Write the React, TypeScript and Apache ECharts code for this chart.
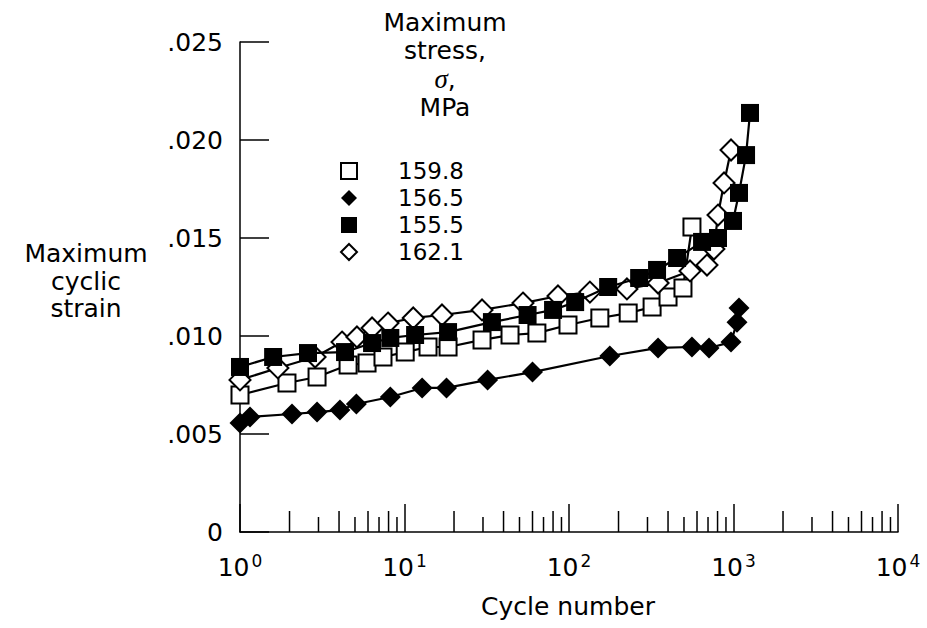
import React, { useEffect, useRef } from "react";
import * as echarts from "echarts";

// ---- data ----
const legendNames = ["159.8", "156.5", "155.5", "162.1"];

const cycles159_8 = [1, 1.93, 2.94, 4.54, 5.92, 7.4, 10.1, 13.9, 18.4, 29.6, 43.8, 63.8, 98.6, 154, 229, 320, 400, 493, 559];
const strain159_8 = [0.00699, 0.0076, 0.00791, 0.00852, 0.00862, 0.00893, 0.00918, 0.00944, 0.00944, 0.0098, 0.01005, 0.01015, 0.01056, 0.01092, 0.01117, 0.01148, 0.01199, 0.01245, 0.01556];

const cycles156_5 = [1, 1.15, 2.07, 2.94, 4.05, 5.1, 8.2, 12.8, 18, 32, 60, 177, 348, 559, 710, 966, 1050, 1080];
const strain156_5 = [0.00556, 0.00587, 0.00602, 0.00612, 0.00622, 0.00653, 0.00689, 0.00735, 0.00735, 0.00776, 0.00816, 0.00898, 0.00939, 0.00944, 0.00939, 0.00969, 0.0107, 0.01143];

const cycles155_5 = [1, 1.59, 2.59, 4.35, 6.35, 8.2, 11.6, 18.4, 34, 56, 80, 109, 173, 267, 343, 454, 644, 805, 993, 1080, 1192, 1260];
const strain155_5 = [0.00842, 0.00893, 0.00913, 0.00918, 0.00964, 0.0099, 0.01005, 0.0102, 0.01071, 0.01107, 0.01133, 0.01173, 0.0125, 0.01296, 0.01337, 0.01398, 0.0148, 0.015, 0.01587, 0.0173, 0.01923, 0.02138];

const cycles162_1 = [1, 1.7, 2.86, 4.17, 5.14, 6.35, 7.94, 11.3, 16.9, 29.6, 52.5, 85.7, 134, 225, 348, 544, 690, 760, 805, 876, 966];
const strain162_1 = [0.00776, 0.00837, 0.00893, 0.00969, 0.00995, 0.01041, 0.01066, 0.01092, 0.01107, 0.01133, 0.01168, 0.01204, 0.01224, 0.0124, 0.0127, 0.01332, 0.01362, 0.01444, 0.01617, 0.01781, 0.01949];

// axis structure
const decades = [1, 10, 100, 1000];
const minorMultipliers = [2, 3, 4, 5, 6, 7, 8, 9];

// text
const legendTitle = "{n|Maximum}\n{n|stress,}\n{g|σ}{n|,}\n{n|MPa}";
const yTitle = "Maximum\ncyclic\nstrain";
const xTitle = "Cycle number";

const FONT = "DejaVu Sans";

function pairs(xs: number[], ys: number[]) {
  return xs.map((x, i) => [x, ys[i]]);
}

export default function App() {
  const ref = useRef<HTMLDivElement>(null);
  useEffect(() => {
    if (!ref.current) return;
    const chart = echarts.init(ref.current, null, { renderer: "svg" });

    const minorTicks: number[][] = [];
    decades.forEach((d) => minorMultipliers.forEach((m) => minorTicks.push([d * m, 0])));

    const lineBase = {
      type: "line",
      showSymbol: true,
      lineStyle: { color: "#000", width: 2.2 },
      emphasis: { disabled: true },
      silent: true,
    };
    const openStyle = { color: "#fff", borderColor: "#000", borderWidth: 2 };
    const filledStyle = { color: "#000", borderColor: "#000", borderWidth: 0 };

    const graphic: any[] = [
      {
        type: "text",
        x: 445,
        y: 8,
        style: {
          text: legendTitle,
          align: "center",
          verticalAlign: "top",
          rich: {
            n: { fontFamily: FONT, fontSize: 25, lineHeight: 28.5, fill: "#000", align: "center" },
            g: { fontFamily: "Liberation Serif", fontStyle: "italic", fontSize: 27, lineHeight: 28.5, fill: "#000", align: "center" },
          },
        },
      },
      {
        type: "text",
        x: 86,
        y: 240,
        style: {
          text: yTitle,
          align: "center",
          verticalAlign: "top",
          fontFamily: FONT,
          fontSize: 25,
          lineHeight: 27.5,
          fill: "#000",
        },
      },
      {
        type: "text",
        x: 568,
        y: 606,
        style: {
          text: xTitle,
          align: "center",
          verticalAlign: "middle",
          fontFamily: FONT,
          fontSize: 25,
          fill: "#000",
        },
      },
    ];

    const option: any = {
      animation: false,
      backgroundColor: "#fff",
      grid: { left: 240, right: 29, top: 42, bottom: 96 },
      xAxis: {
        type: "log",
        logBase: 10,
        min: 1,
        max: 10000,
        axisLine: { show: true, onZero: false, lineStyle: { color: "#000", width: 1.5 } },
        axisTick: { show: true, inside: true, length: 28, lineStyle: { color: "#000", width: 1.5 } },
        minorTick: { show: false },
        splitLine: { show: false },
        axisLabel: {
          margin: 20,
          color: "#000",
          formatter: (v: number) => `{b|10}{s|${Math.round(Math.log10(v))}}`,
          rich: {
            b: { fontFamily: FONT, fontSize: 25, color: "#000", lineHeight: 30 },
            s: { fontFamily: FONT, fontSize: 17, color: "#000", lineHeight: 30, verticalAlign: "top", padding: [0, 0, 0, 2] },
          },
        },
      },
      yAxis: {
        type: "value",
        min: 0,
        max: 0.025,
        interval: 0.005,
        axisLine: { show: true, onZero: false, lineStyle: { color: "#000", width: 1.5 } },
        axisTick: { show: true, inside: true, length: 29, lineStyle: { color: "#000", width: 1.5 } },
        splitLine: { show: false },
        axisLabel: {
          margin: 17,
          color: "#000",
          fontFamily: FONT,
          fontSize: 25,
          formatter: (v: number) => (v === 0 ? "0" : "." + v.toFixed(3).slice(2)),
        },
      },
      legend: {
        orient: "vertical",
        left: 335,
        top: 153,
        itemWidth: 16,
        itemHeight: 16,
        itemGap: 1,
        selectedMode: false,
        textStyle: { fontFamily: FONT, fontSize: 23, color: "#000", lineHeight: 26, padding: [0, 0, 0, 36] },
        data: [
          { name: legendNames[0], icon: "rect", itemStyle: openStyle },
          { name: legendNames[1], icon: "diamond", itemStyle: filledStyle },
          { name: legendNames[2], icon: "rect", itemStyle: filledStyle },
          { name: legendNames[3], icon: "diamond", itemStyle: openStyle },
        ],
      },
      graphic,
      series: [
        {
          type: "custom",
          name: "minorTicks",
          silent: true,
          clip: false,
          data: minorTicks,
          renderItem: (params: any, api: any) => {
            const v = api.value(0);
            const p = api.coord([v, 0]);
            const m = Math.round(v / Math.pow(10, Math.floor(Math.log10(v) + 1e-9)));
            const len = m % 2 === 0 ? 21 : 15;
            return {
              type: "line",
              shape: { x1: p[0], y1: p[1], x2: p[0], y2: p[1] - len },
              style: { stroke: "#000", lineWidth: 1.5 },
            };
          },
        },
        { ...lineBase, name: legendNames[0], symbol: "rect", symbolSize: 17, itemStyle: openStyle, data: pairs(cycles159_8, strain159_8), z: 3 },
        { ...lineBase, name: legendNames[1], symbol: "diamond", symbolSize: 21, itemStyle: filledStyle, data: pairs(cycles156_5, strain156_5), z: 3 },
        { ...lineBase, name: legendNames[3], symbol: "diamond", symbolSize: 21, itemStyle: openStyle, data: pairs(cycles162_1, strain162_1), z: 4 },
        { ...lineBase, name: legendNames[2], symbol: "rect", symbolSize: 18, itemStyle: filledStyle, data: pairs(cycles155_5, strain155_5), z: 5 },
      ],
    };

    chart.setOption(option);
    return () => chart.dispose();
  }, []);

  return <div ref={ref} style={{ width: 927, height: 628, position: "absolute", left: 0, top: 0 }} />;
}
